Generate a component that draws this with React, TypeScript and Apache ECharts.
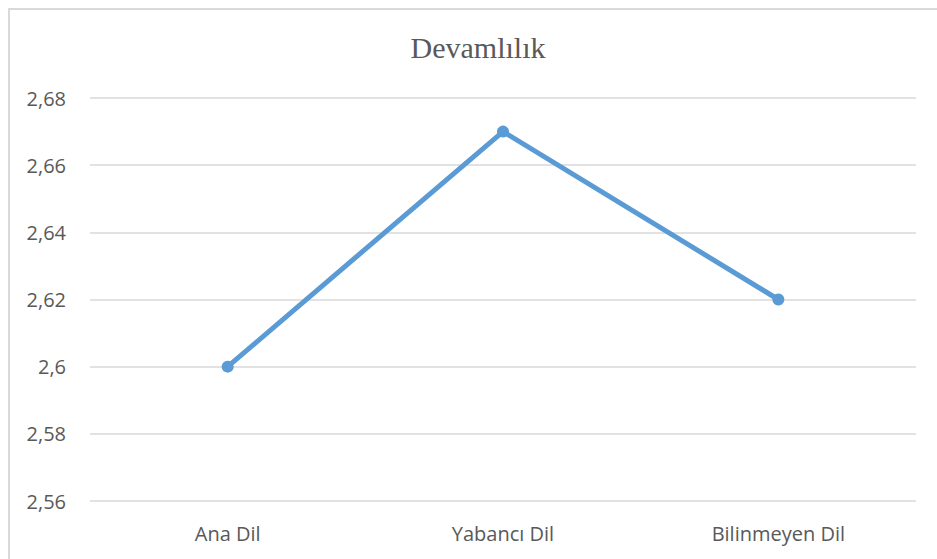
import React, { useEffect, useRef } from "react";
import * as echarts from "echarts";

const categories: string[] = ["Ana Dil", "Yabancı Dil", "Bilinmeyen Dil"];
const values: number[] = [2.6, 2.67, 2.62];
const yMin = 2.56;
const yMax = 2.68;
const yStep = 0.02;
const titleText = "Devamlılık";

export default function App() {
  const ref = useRef<HTMLDivElement>(null);
  useEffect(() => {
    document.body.style.margin = "0";
    document.body.style.overflow = "hidden";
    const chart = echarts.init(ref.current!, undefined, { renderer: "svg" });
    chart.setOption({
      animation: false,
      backgroundColor: "#ffffff",
      title: {
        text: titleText,
        left: 473,
        textAlign: "center",
        top: 27,
        textStyle: {
          fontFamily: "Liberation Serif",
          fontWeight: "normal",
          fontSize: 30,
          color: "#595959",
        },
      },
      grid: { left: 90, right: 21, top: 98, bottom: 58 },
      xAxis: {
        type: "category",
        data: categories,
        axisLine: { show: false },
        axisTick: { show: false },
        axisLabel: {
          fontFamily: "Open Sans",
          fontSize: 20,
          color: "#595959",
          margin: 22,
        },
      },
      yAxis: {
        type: "value",
        min: yMin,
        max: yMax,
        interval: yStep,
        axisLine: { show: false },
        axisTick: { show: false },
        splitLine: { lineStyle: { color: "#d9d9d9", width: 1.5 } },
        axisLabel: {
          fontFamily: "Open Sans",
          fontSize: 20,
          color: "#595959",
          margin: 24,
          formatter: (v: number) =>
            String(parseFloat(v.toFixed(2))).replace(".", ","),
        },
      },
      series: [
        {
          type: "line",
          data: values,
          symbol: "circle",
          symbolSize: 12,
          lineStyle: { color: "#5B9BD5", width: 5 },
          itemStyle: { color: "#5B9BD5" },
        },
      ],
    });
    return () => chart.dispose();
  }, []);
  return (
    <div style={{ position: "fixed", left: 0, top: 0, width: 937, height: 559, overflow: "hidden" }}>
      <div ref={ref} style={{ position: "absolute", left: 0, top: 0, width: 937, height: 559 }} />
      <div
        style={{
          position: "absolute",
          left: 8,
          top: 8,
          width: 940,
          height: 560,
          borderTop: "2px solid #d9d9d9",
          borderLeft: "2px solid #d9d9d9",
          boxSizing: "border-box",
          pointerEvents: "none",
        }}
      />
    </div>
  );
}
